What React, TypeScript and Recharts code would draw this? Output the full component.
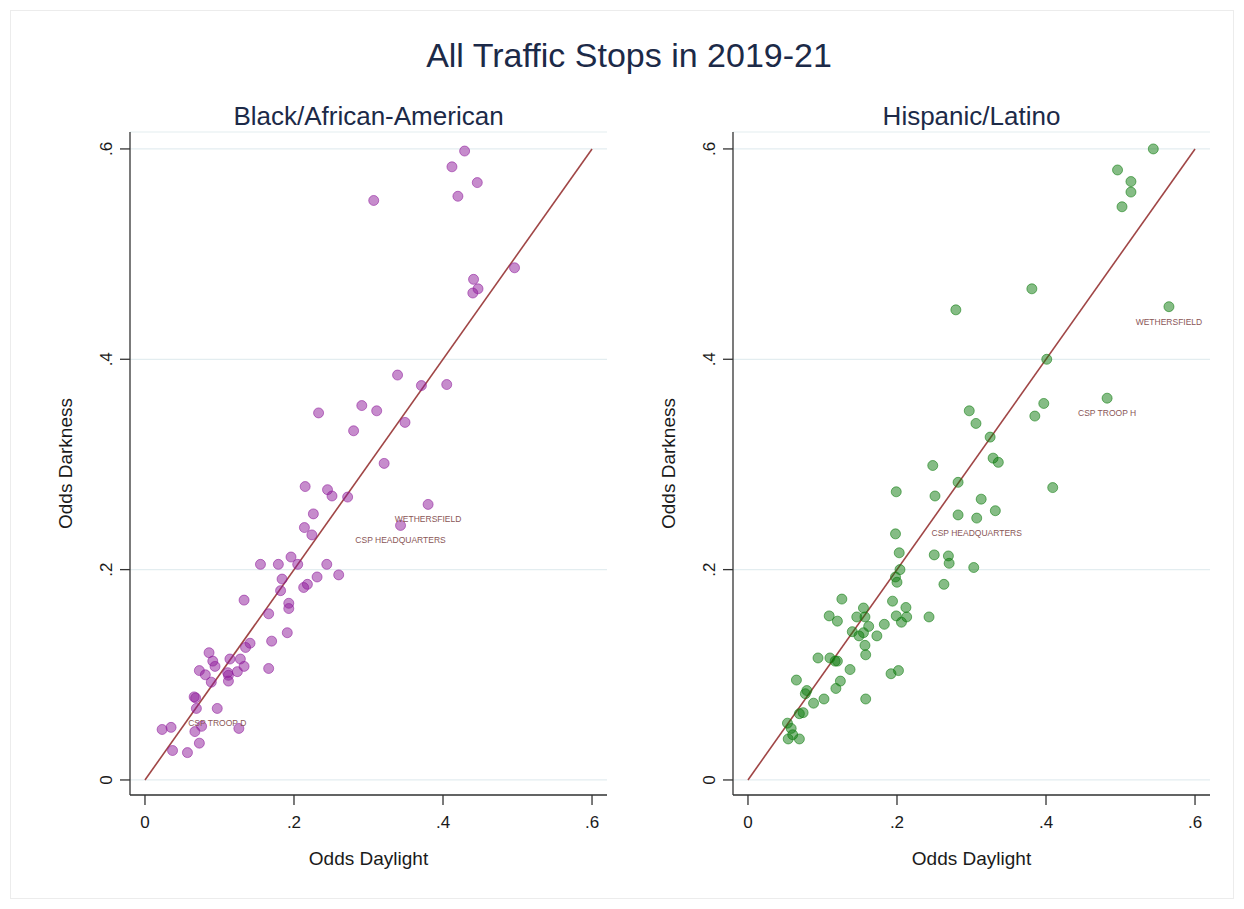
import React from 'react';
import { ScatterChart, Scatter, XAxis, YAxis, CartesianGrid, ReferenceLine } from 'recharts';

// ---------- data ----------
const axisTicks = [0, 0.2, 0.4, 0.6];
const axisTickLabels = ['0', '.2', '.4', '.6'];

const blackDaylight = [
  0.429, 0.412, 0.446, 0.420, 0.307, 0.496, 0.441, 0.447, 0.440, 0.339,
  0.371, 0.405, 0.291, 0.311, 0.233, 0.349, 0.280, 0.321, 0.215, 0.245,
  0.251, 0.272, 0.380, 0.226, 0.343, 0.214, 0.224, 0.196, 0.155, 0.179,
  0.205, 0.244, 0.184, 0.231, 0.260, 0.218, 0.213, 0.182, 0.133, 0.193,
  0.193, 0.166, 0.191, 0.170, 0.141, 0.135, 0.086, 0.091, 0.094, 0.114,
  0.128, 0.133, 0.073, 0.081, 0.111, 0.112, 0.124, 0.166, 0.112, 0.089,
  0.066, 0.068, 0.069, 0.097, 0.023, 0.035, 0.067, 0.076, 0.126, 0.037,
  0.057, 0.073,
];
const blackDarkness = [
  0.598, 0.583, 0.568, 0.555, 0.551, 0.487, 0.476, 0.467, 0.463, 0.385,
  0.375, 0.376, 0.356, 0.351, 0.349, 0.340, 0.332, 0.301, 0.279, 0.276,
  0.270, 0.269, 0.262, 0.253, 0.242, 0.240, 0.233, 0.212, 0.205, 0.205,
  0.205, 0.205, 0.191, 0.193, 0.195, 0.186, 0.183, 0.180, 0.171, 0.168,
  0.163, 0.158, 0.140, 0.132, 0.130, 0.126, 0.121, 0.113, 0.108, 0.115,
  0.115, 0.108, 0.104, 0.100, 0.102, 0.0995, 0.103, 0.106, 0.094, 0.093,
  0.079, 0.078, 0.068, 0.068, 0.048, 0.050, 0.046, 0.051, 0.049, 0.028,
  0.026, 0.035,
];
const blackLabelNames = ['WETHERSFIELD', 'CSP HEADQUARTERS', 'CSP TROOP D'];
const blackLabelDaylight = [0.380, 0.343, 0.097];
const blackLabelDarkness = [0.262, 0.242, 0.068];

const hispDaylight = [
  0.544, 0.496, 0.514, 0.514, 0.502, 0.381, 0.279, 0.565, 0.401, 0.482,
  0.297, 0.397, 0.385, 0.306, 0.325, 0.329, 0.336, 0.248, 0.282, 0.409,
  0.199, 0.251, 0.313, 0.332, 0.282, 0.307, 0.198, 0.203, 0.250, 0.269,
  0.270, 0.204, 0.303, 0.198, 0.200, 0.263, 0.126, 0.194, 0.212, 0.155,
  0.109, 0.146, 0.199, 0.243, 0.120, 0.157, 0.213, 0.162, 0.183, 0.206,
  0.140, 0.155, 0.149, 0.173, 0.157, 0.158, 0.094, 0.110, 0.117, 0.120,
  0.137, 0.192, 0.202, 0.065, 0.124, 0.118, 0.079, 0.077, 0.102, 0.158,
  0.088, 0.069, 0.074, 0.053, 0.058, 0.060, 0.054, 0.069,
];
const hispDarkness = [
  0.600, 0.580, 0.569, 0.559, 0.545, 0.467, 0.447, 0.450, 0.400, 0.363,
  0.351, 0.358, 0.346, 0.339, 0.326, 0.306, 0.302, 0.299, 0.283, 0.278,
  0.274, 0.270, 0.267, 0.256, 0.252, 0.249, 0.234, 0.216, 0.214, 0.213,
  0.206, 0.200, 0.202, 0.193, 0.188, 0.186, 0.172, 0.170, 0.164, 0.1635,
  0.156, 0.155, 0.156, 0.155, 0.151, 0.155, 0.155, 0.146, 0.148, 0.150,
  0.141, 0.140, 0.137, 0.137, 0.128, 0.119, 0.116, 0.116, 0.113, 0.113,
  0.105, 0.101, 0.104, 0.095, 0.094, 0.087, 0.085, 0.082, 0.077, 0.077,
  0.073, 0.063, 0.064, 0.054, 0.049, 0.043, 0.039, 0.039,
];
const hispLabelNames = ['WETHERSFIELD', 'CSP TROOP H', 'CSP HEADQUARTERS'];
const hispLabelDaylight = [0.565, 0.482, 0.307];
const hispLabelDarkness = [0.450, 0.363, 0.249];

// ---------- helpers ----------
const zip = (xs: number[], ys: number[]) => xs.map((x, i) => ({ x, y: ys[i] }));
const zipNamed = (names: string[], xs: number[], ys: number[]) =>
  names.map((name, i) => ({ name, x: xs[i], y: ys[i] }));

const FONT = '"Liberation Sans", Arial, Helvetica, sans-serif';
const AXIS_COLOR = '#333333';
const TEXT_COLOR = '#1a1a1a';
const TITLE_COLOR = '#1c2a48';
const fmt = (v: number) => axisTickLabels[axisTicks.findIndex((t) => Math.abs(t - v) < 1e-9)] ?? String(v);

const XTick = (props: any) => {
  const { x, y, payload } = props;
  return (
    <text x={x} y={y + 21} textAnchor="middle" fontSize={17} fontFamily={FONT} fill={TEXT_COLOR}>
      {fmt(payload.value)}
    </text>
  );
};

const YTick = (props: any) => {
  const { x, y, payload } = props;
  const bx = x - 6;
  return (
    <text
      x={bx}
      y={y}
      transform={`rotate(-90 ${bx} ${y})`}
      textAnchor="middle"
      fontSize={17}
      fontFamily={FONT}
      fill={TEXT_COLOR}
    >
      {fmt(payload.value)}
    </text>
  );
};

const makeDot = (color: string) => (props: any) => {
  const { cx, cy } = props;
  if (cx == null || cy == null) return null;
  return (
    <circle
      cx={cx}
      cy={cy}
      r={5}
      fill={color}
      fillOpacity={0.5}
      stroke={color}
      strokeOpacity={0.55}
      strokeWidth={1}
    />
  );
};

const LabelShape = (props: any) => {
  const { cx, cy, payload } = props;
  if (cx == null || cy == null) return null;
  return (
    <text
      x={cx}
      y={cy + 18}
      textAnchor="middle"
      fontSize={8.5}
      fontFamily={FONT}
      fill="#8a5656"
    >
      {payload.name}
    </text>
  );
};

type PanelProps = {
  left: number;
  points: { x: number; y: number }[];
  labels: { name: string; x: number; y: number }[];
  color: string;
};

const Panel = ({ left, points, labels, color }: PanelProps) => (
  <div style={{ position: 'absolute', left, top: 0, width: 620, height: 909 }}>
    <ScatterChart width={620} height={909} margin={{ top: 132, right: 13, bottom: 34, left: 40 }}>
      <CartesianGrid vertical={false} horizontal={true} stroke="#e3edf0" strokeWidth={1.2} />
      <XAxis
        type="number"
        dataKey="x"
        domain={[-0.0201, 0.6201]}
        ticks={axisTicks}
        allowDataOverflow
        height={80}
        tickSize={10}
        tickMargin={2}
        tick={<XTick />}
        axisLine={{ stroke: AXIS_COLOR, strokeWidth: 1.3 }}
        tickLine={{ stroke: AXIS_COLOR, strokeWidth: 1.3 }}
      />
      <YAxis
        type="number"
        dataKey="y"
        domain={[-0.0143, 0.6161]}
        ticks={axisTicks}
        allowDataOverflow
        width={90}
        tickSize={10}
        tickMargin={2}
        tick={<YTick />}
        axisLine={{ stroke: AXIS_COLOR, strokeWidth: 1.3 }}
        tickLine={{ stroke: AXIS_COLOR, strokeWidth: 1.3 }}
      />
      <Scatter data={points} shape={makeDot(color)} isAnimationActive={false} />
      <ReferenceLine
        segment={[{ x: 0, y: 0 }, { x: 0.6, y: 0.6 }]}
        stroke="#a04646"
        strokeWidth={1.6}
      />
      <Scatter data={labels} shape={LabelShape} isAnimationActive={false} />
    </ScatterChart>
  </div>
);

const textBox = (
  text: string,
  cx: number,
  cy: number,
  fontSize: number,
  color: string,
  rotate = false
) => (
  <div
    style={{
      position: 'absolute',
      left: cx - 300,
      top: cy - fontSize / 2,
      width: 600,
      height: fontSize,
      lineHeight: `${fontSize}px`,
      fontSize,
      fontFamily: FONT,
      color,
      textAlign: 'center',
      whiteSpace: 'nowrap',
      transform: rotate ? 'rotate(-90deg)' : undefined,
      transformOrigin: 'center center',
    }}
  >
    {text}
  </div>
);

export default function App() {
  const blackPts = zip(blackDaylight, blackDarkness);
  const blackLbls = zipNamed(blackLabelNames, blackLabelDaylight, blackLabelDarkness);
  const hispPts = zip(hispDaylight, hispDarkness);
  const hispLbls = zipNamed(hispLabelNames, hispLabelDaylight, hispLabelDarkness);
  return (
    <div
      style={{
        position: 'absolute',
        left: 0,
        top: 0,
        width: 1244,
        height: 909,
        background: '#ffffff',
        overflow: 'hidden',
      }}
    >
      <div
        style={{
          position: 'absolute',
          left: 10,
          top: 10,
          width: 1222,
          height: 887,
          border: '1px solid #ececec',
        }}
      />
      <Panel left={0} points={blackPts} labels={blackLbls} color="#8e1a9a" />
      <Panel left={603} points={hispPts} labels={hispLbls} color="#0b7a0b" />
      {textBox('All Traffic Stops in 2019-21', 629, 55, 34, TITLE_COLOR)}
      {textBox('Black/African-American', 368.5, 116, 26, TITLE_COLOR)}
      {textBox('Hispanic/Latino', 971.5, 116, 26, TITLE_COLOR)}
      {textBox('Odds Daylight', 368.5, 858, 19, TEXT_COLOR)}
      {textBox('Odds Daylight', 971.5, 858, 19, TEXT_COLOR)}
      {textBox('Odds Darkness', 65, 463.5, 19, TEXT_COLOR, true)}
      {textBox('Odds Darkness', 668, 463.5, 19, TEXT_COLOR, true)}
    </div>
  );
}
